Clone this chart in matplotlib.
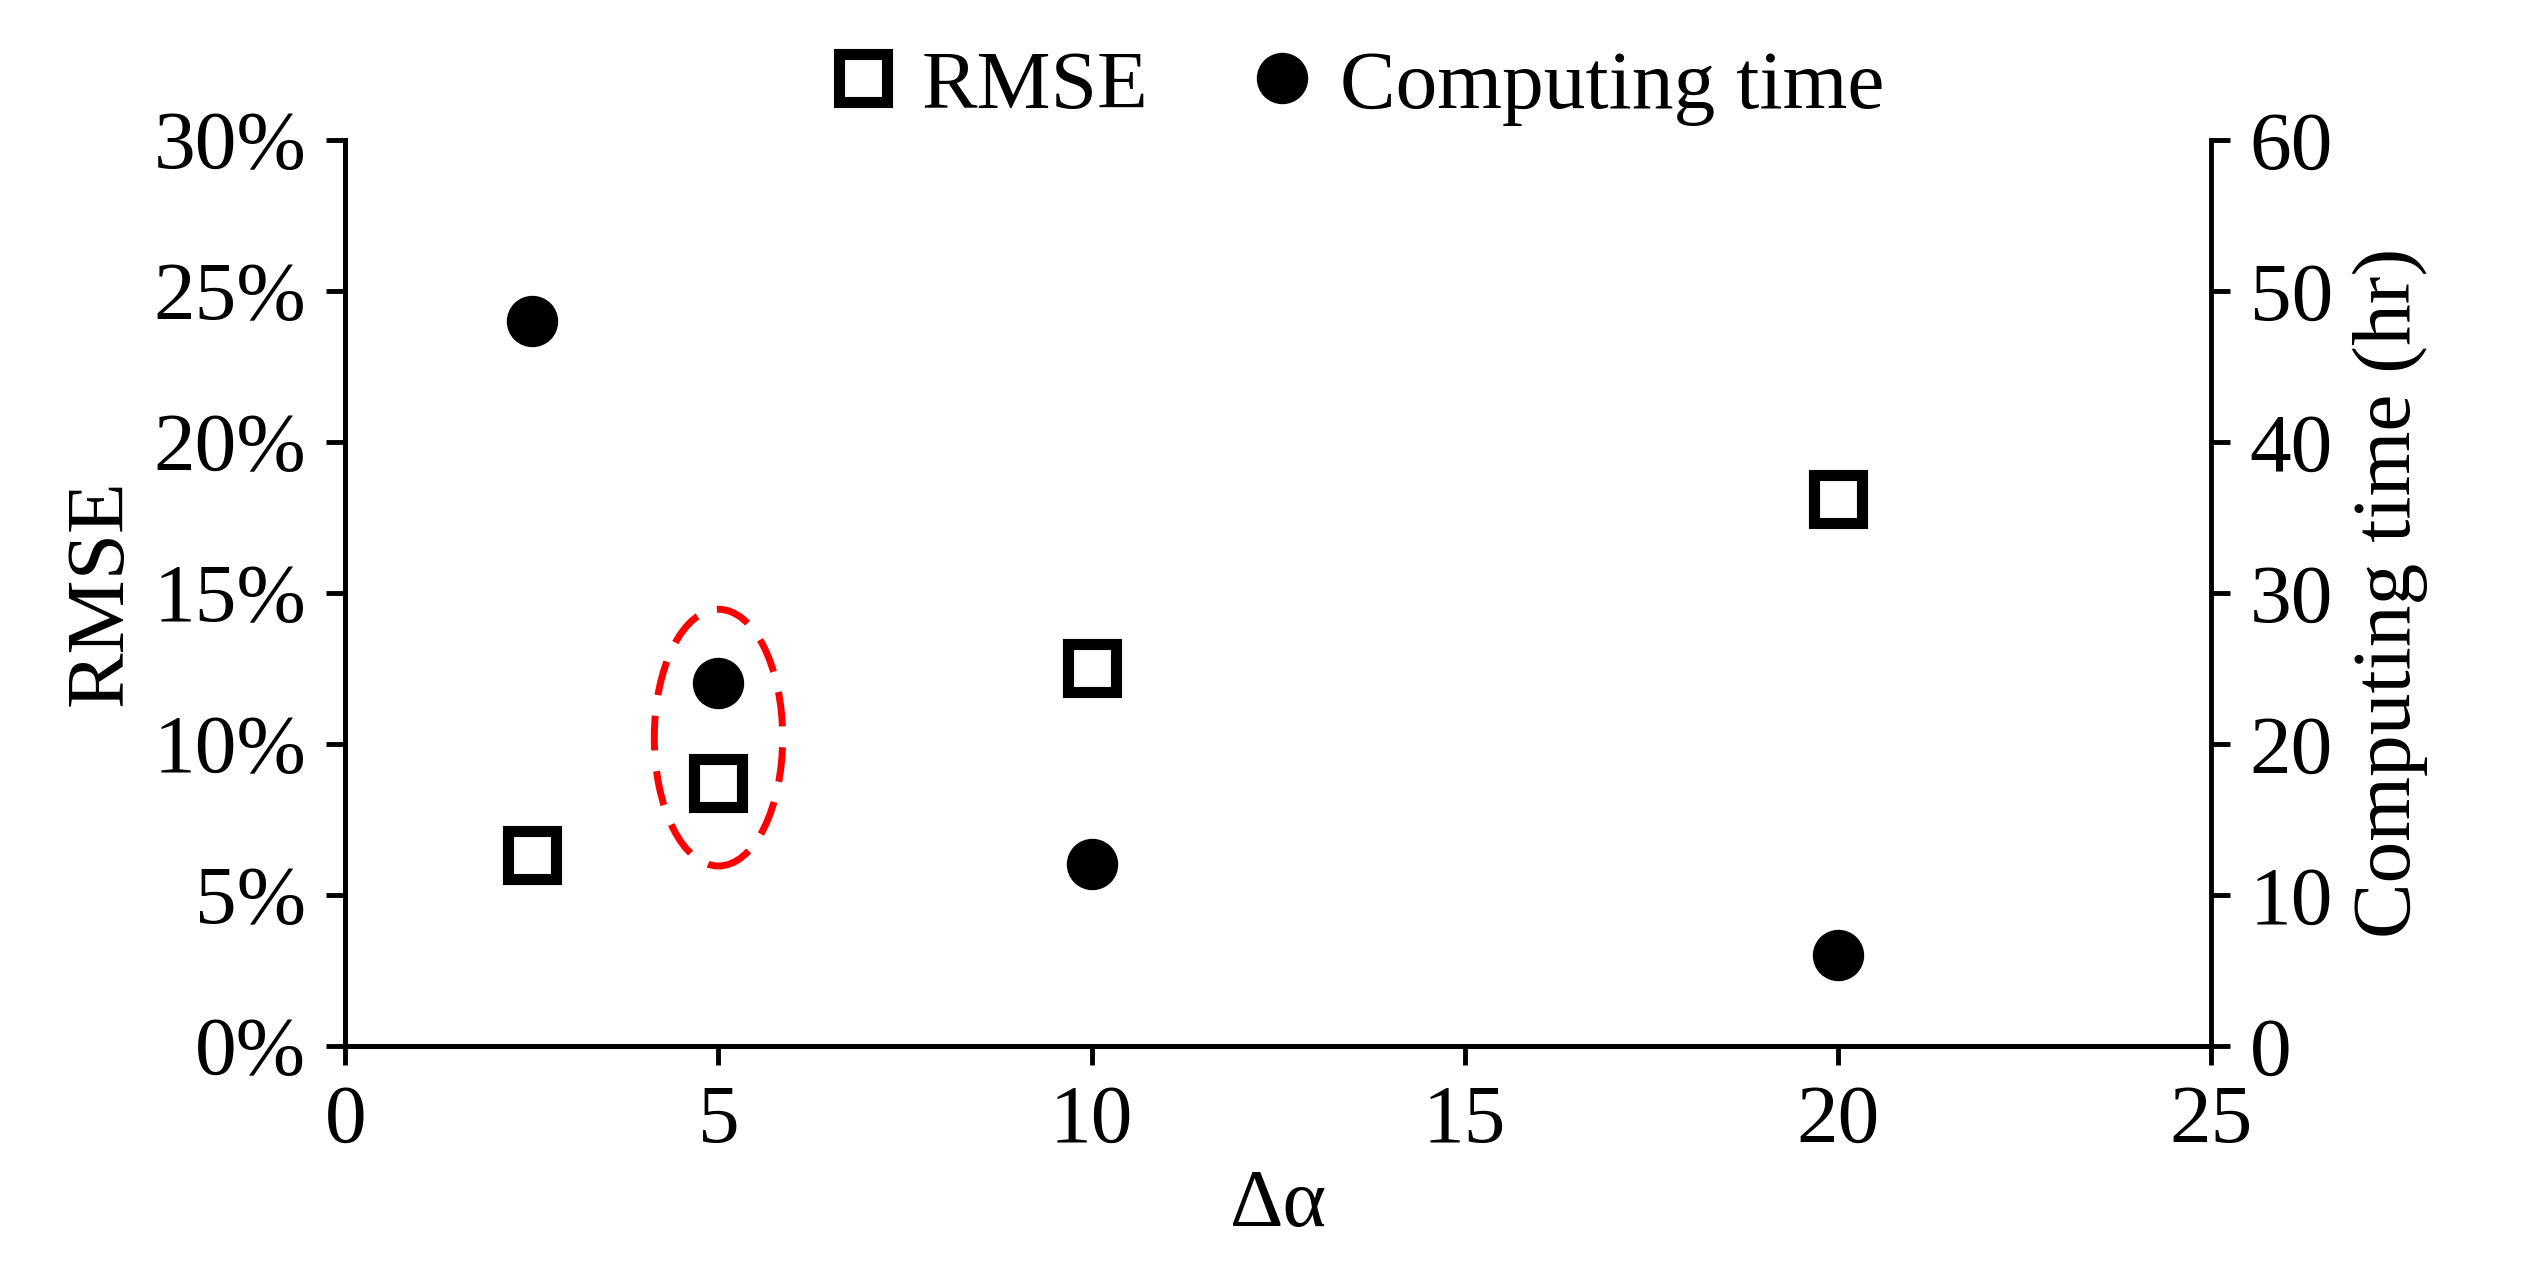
import numpy as np
import matplotlib.pyplot as plt
from matplotlib.patches import Ellipse
from matplotlib.ticker import PercentFormatter

plt.rcParams['font.family'] = ['Liberation Serif', 'DejaVu Serif']

delta = [2.5, 5, 10, 20]
rmse = [6.3, 8.7, 12.5, 18.1]          # percent
comp_time = [48, 24, 12, 6]             # hr

fig = plt.figure(figsize=(25.21, 12.87), dpi=100)
ax = fig.add_axes([0.137, 0.1875, 0.74, 0.704])
ax2 = ax.twinx()

fs = 60
lw = 3.5
sq, = ax.plot(delta, rmse, 's', ms=34, mfc='white', mec='black', mew=8, label='RMSE', zorder=5)
ci, = ax2.plot(delta, comp_time, 'o', ms=36, color='black', label='Computing time')

ax.set_xlim(0, 25)
ax.set_ylim(0, 30)
ax2.set_ylim(0, 60)
ax.set_xticks([0, 5, 10, 15, 20, 25])
ax.set_yticks(np.arange(0, 31, 5))
ax2.set_yticks(np.arange(0, 61, 10))
ax.yaxis.set_major_formatter(PercentFormatter(decimals=0))

ax.add_patch(Ellipse((5, 10.2), 1.72, 8.5, fill=False, ec='red', lw=5,
                     ls=(0, (5, 3)), zorder=6))

for a in (ax, ax2):
    a.spines['top'].set_visible(False)
    for s in ('left', 'right', 'bottom'):
        a.spines[s].set_linewidth(lw)
    a.tick_params(labelsize=fs, width=lw, length=14, direction='out', pad=14)
ax.spines['right'].set_visible(False)

ax.set_xlabel('Δα', fontsize=fs, labelpad=6)
ax.set_ylabel('RMSE', fontsize=fs, labelpad=10)
ax2.set_ylabel('Computing time (hr)', fontsize=fs, labelpad=14)

fig.legend(handles=[sq, ci], loc='upper center', ncol=2, frameon=False,
           fontsize=fs, bbox_to_anchor=(0.535, 1.02), handletextpad=0.1,
           columnspacing=1.0, markerscale=1.0, handlelength=1.2)

fig.savefig('out.png', dpi=100)
